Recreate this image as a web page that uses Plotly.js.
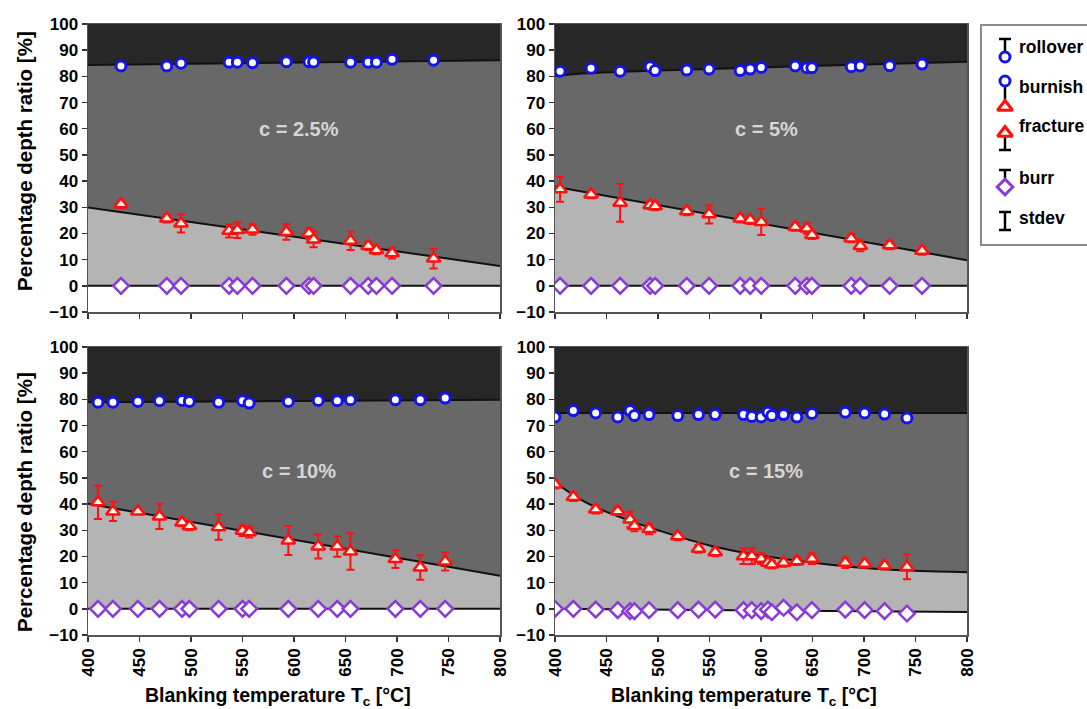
<!DOCTYPE html>
<html><head><meta charset="utf-8">
<script src="https://cdn.plot.ly/plotly-3.0.1.min.js"></script>
<style>html,body{margin:0;padding:0;background:#fff}#chart{width:1087px;height:709px}</style>
</head><body><div id="chart"></div>
<script>
// ---------- axis ranges ----------
const X_RANGE = [400, 800];
const Y_RANGE = [-10, 100];

// ---------- panel 1 : c = 2.5% ----------
const T1 = [432, 476.5, 490.3, 537, 545, 559.7, 592.6, 614.5, 619, 654.9, 672, 680, 695.2, 735.5];
const burnish1 = [84.0, 84.0, 85.0, 85.4, 85.4, 85.2, 85.6, 85.6, 85.5, 85.4, 85.4, 85.4, 86.5, 86.2];
const fracture1 = [31.2, 25.7, 23.8, 21.0, 21.3, 21.5, 20.6, 20.0, 17.7, 17.2, 15.2, 13.6, 12.4, 10.4];
const fractureErr1 = [1.5, 1.5, 3.4, 2.5, 3, 2, 3, 2, 3, 3.5, 1.5, 1.5, 2, 3.8];
const burr1 = [0, 0, 0, 0, 0, 0, 0, 0, 0, 0, 0, 0, 0, 0];
const topLineX1 = [400, 800], topLine1 = [84.3, 86.2];
const fracLineX1 = [400, 800], fracLine1 = [29.9, 7.6];
const burrLineX1 = [400, 800], burrLine1 = [0, 0];

// ---------- panel 2 : c = 5% ----------
const T2 = [404.9, 435, 463.2, 492.3, 497.2, 527.9, 549.6, 579.8, 589.5, 600.2, 633.2, 644.5, 649.4, 687.6, 696.4, 724.9, 756.3];
const burnish2 = [82.0, 83.1, 82.0, 83.7, 82.2, 82.4, 82.8, 82.2, 82.8, 83.4, 84.0, 83.3, 83.3, 83.7, 84.0, 84.1, 84.7];
const fracture2 = [36.9, 34.9, 31.7, 30.8, 30.4, 28.5, 27.3, 25.7, 25.1, 24.4, 22.5, 21.9, 19.4, 18.1, 15.2, 15.5, 13.4];
const fractureErr2 = [4.8, 1.5, 7.2, 1.5, 1.5, 1.5, 3.5, 1.5, 1.5, 5, 1.5, 2, 1.5, 1.5, 2, 1.5, 1.5];
const burr2 = [0, 0, 0, 0, 0, 0, 0, 0, 0, 0, 0, 0, 0, 0, 0, 0, 0];
const topLineX2 = [400, 423, 500, 600, 700, 800], topLine2 = [80.1, 81.0, 82.2, 83.4, 84.5, 85.6];
const fracLineX2 = [400, 800], fracLine2 = [37.8, 9.8];
const burrLineX2 = [400, 800], burrLine2 = [0, 0];

// ---------- panel 3 : c = 10% ----------
const T3 = [409.7, 424.2, 448.4, 469.4, 491.3, 498.4, 526.8, 550, 556.5, 594.5, 623.5, 642, 654.8, 698.4, 722.6, 746.8];
const burnish3 = [78.9, 78.9, 79.2, 79.5, 79.6, 79.2, 78.9, 79.5, 78.6, 79.2, 79.6, 79.5, 79.9, 79.9, 79.9, 80.5];
const fracture3 = [40.7, 37.2, 37.2, 35.3, 33.0, 31.5, 31.2, 29.8, 29.2, 26.1, 23.8, 23.8, 21.9, 19.0, 15.8, 18.1];
const fractureErr3 = [6.4, 3.7, 1, 4.8, 1.5, 1.5, 4.8, 2, 2, 5.5, 4.6, 3.9, 7, 3.4, 4.7, 3.5];
const burr3 = [0, 0, 0, 0, 0, 0, 0, 0, 0, 0, 0, 0, 0, 0, 0, 0];
const topLineX3 = [400, 800], topLine3 = [78.9, 79.9];
const fracLineX3 = [400, 800], fracLine3 = [40.1, 12.6];
const burrLineX3 = [400, 800], burrLine3 = [0, 0];

// ---------- panel 4 : c = 15% ----------
const T4 = [400, 417.8, 439.5, 460.9, 472.9, 477.1, 491.3, 519.2, 539.3, 555.5, 583, 591.1, 600.2, 606.7, 610.5, 621.9, 634.8, 649.4, 681.8, 700.6, 720, 741.7];
const burnish4 = [73.3, 75.7, 74.8, 73.3, 75.7, 73.8, 74.2, 73.8, 74.2, 74.2, 74.2, 73.5, 73.3, 75.1, 73.8, 74.2, 73.3, 74.6, 75.1, 74.8, 74.4, 72.9];
const fracture4 = [47.5, 42.7, 37.9, 37.3, 34.1, 31.6, 30.5, 27.7, 22.9, 21.6, 20.1, 20.1, 19.1, 17.6, 16.9, 17.6, 18.2, 19.1, 17.6, 17.2, 16.5, 16.0];
const fractureErr4 = [1.5, 1.5, 1.5, 1.5, 3, 2, 2, 1.5, 1.5, 1.5, 3, 3, 2, 1.5, 1.5, 1.5, 1.5, 2, 2, 1.5, 1.5, 4.7];
const burr4 = [0, 0, -0.3, -0.5, -0.9, -0.9, -0.5, -0.5, -0.3, -0.3, -0.5, -0.5, -0.9, -0.3, -1.3, 0.4, -1.3, -0.5, -0.3, -0.5, -0.9, -1.8];
const topLineX4 = [400, 800], topLine4 = [74.8, 74.8];
const fracLineX4 = [400, 425, 450, 475, 500, 550, 600, 650, 700, 750, 800];
const fracLine4 = [48.3, 41.7, 37.0, 33.3, 30.0, 24.2, 20.3, 17.6, 15.6, 14.5, 14.0];
const burrLineX4 = [400, 800], burrLine4 = [0, -1.2];

const panelLabels = ['c = 2.5%', 'c = 5%', 'c = 10%', 'c = 15%'];
const legendLabels = ['rollover', 'burnish', 'fracture', 'burr', 'stdev'];

// ---------- styles ----------
const DARK = '#272727', MID = '#686868', LIGHT = '#b4b4b4';
const BLUE = '#1414e6', RED = '#ff1010', PURPLE = '#8a3ad6';
const FONT = 'Liberation Sans, Arial, sans-serif';

const panels = [
  {T: T1, b: burnish1, f: fracture1, fe: fractureErr1, r: burr1, tx: topLineX1, ty: topLine1, fx: fracLineX1, fy: fracLine1, rx: burrLineX1, ry: burrLine1, spline: false, ly: 60},
  {T: T2, b: burnish2, f: fracture2, fe: fractureErr2, r: burr2, tx: topLineX2, ty: topLine2, fx: fracLineX2, fy: fracLine2, rx: burrLineX2, ry: burrLine2, spline: true, ly: 60},
  {T: T3, b: burnish3, f: fracture3, fe: fractureErr3, r: burr3, tx: topLineX3, ty: topLine3, fx: fracLineX3, fy: fracLine3, rx: burrLineX3, ry: burrLine3, spline: false, ly: 52.5},
  {T: T4, b: burnish4, f: fracture4, fe: fractureErr4, r: burr4, tx: topLineX4, ty: topLine4, fx: fracLineX4, fy: fracLine4, rx: burrLineX4, ry: burrLine4, spline: true, ly: 52.5}
];

const traces = [];
const annotations = [];
panels.forEach((p, i) => {
  const sfx = i === 0 ? '' : String(i + 1);
  const xa = 'x' + sfx, ya = 'y' + sfx;
  const base = {xaxis: xa, yaxis: ya, hoverinfo: 'skip', showlegend: false};
  const bl = {color: '#111', width: 2, shape: p.spline ? 'spline' : 'linear'};
  traces.push(Object.assign({}, base, {x: X_RANGE, y: [Y_RANGE[0], Y_RANGE[0]], mode: 'lines', line: {width: 0}}));
  traces.push(Object.assign({}, base, {x: p.rx, y: p.ry, mode: 'lines', fill: 'tonexty', fillcolor: '#ffffff', line: {color: '#111', width: 2}}));
  traces.push(Object.assign({}, base, {x: p.fx, y: p.fy, mode: 'lines', fill: 'tonexty', fillcolor: LIGHT, line: bl}));
  traces.push(Object.assign({}, base, {x: p.tx, y: p.ty, mode: 'lines', fill: 'tonexty', fillcolor: MID, line: bl}));
  traces.push(Object.assign({}, base, {x: X_RANGE, y: [Y_RANGE[1], Y_RANGE[1]], mode: 'lines', fill: 'tonexty', fillcolor: DARK, line: {width: 0}}));
  // burr
  traces.push(Object.assign({}, base, {x: p.T, y: p.r, mode: 'markers', name: 'burr',
    marker: {symbol: 'diamond', size: 12, color: '#ffffff', line: {color: PURPLE, width: 2.5}}}));
  // fracture
  traces.push(Object.assign({}, base, {x: p.T, y: p.f, mode: 'markers', name: 'fracture',
    error_y: {type: 'data', array: p.fe, visible: true, color: RED, thickness: 2, width: 4},
    marker: {symbol: 'triangle-up', size: 12, color: '#fff6e8', line: {color: RED, width: 2.5}}}));
  // burnish / rollover boundary
  traces.push(Object.assign({}, base, {x: p.T, y: p.b, mode: 'markers', name: 'burnish',
    marker: {symbol: 'circle', size: 10, color: '#ffffff', line: {color: BLUE, width: 3}}}));
  annotations.push({xref: xa, yref: ya, x: 605, y: p.ly, text: '<b>' + panelLabels[i] + '</b>', showarrow: false,
    xanchor: 'center', yanchor: 'middle', font: {family: FONT, size: 20, color: '#d6d6d6'}});
});

// ---------- custom legend (icons built from the same marker/error-bar glyphs) ----------
const LG = {xaxis: 'x5', yaxis: 'y5', hoverinfo: 'skip', showlegend: false, mode: 'markers'};
const ebBlack = (plus, minus) => ({type: 'data', symmetric: false, array: [plus], arrayminus: [minus], visible: true, color: '#000', thickness: 2.5, width: 6});
const legendIconX = 24, legendTextX = 36;
const legendTextY = [22, 62, 101, 153, 193];
traces.push(Object.assign({}, LG, {x: [legendIconX], y: [32], error_y: ebBlack(0, 18),
  marker: {symbol: 'circle', size: 10, color: '#fff', line: {color: BLUE, width: 3}}}));
traces.push(Object.assign({}, LG, {x: [legendIconX, legendIconX], y: [56, 81], mode: 'lines', line: {color: '#000', width: 2.5}}));
traces.push(Object.assign({}, LG, {x: [legendIconX], y: [56],
  marker: {symbol: 'circle', size: 10, color: '#fff', line: {color: BLUE, width: 3}}}));
traces.push(Object.assign({}, LG, {x: [legendIconX], y: [82],
  marker: {symbol: 'triangle-up', size: 13, color: '#fff6e8', line: {color: RED, width: 3}}}));
traces.push(Object.assign({}, LG, {x: [legendIconX], y: [108], error_y: ebBlack(17, 0),
  marker: {symbol: 'triangle-up', size: 13, color: '#fff6e8', line: {color: RED, width: 3}}}));
traces.push(Object.assign({}, LG, {x: [legendIconX], y: [162], error_y: ebBlack(0, 17),
  marker: {symbol: 'diamond', size: 12, color: '#fff', line: {color: PURPLE, width: 3}}}));
traces.push(Object.assign({}, LG, {x: [legendIconX], y: [196], error_y: {type: 'data', array: [9], visible: true, color: '#000', thickness: 2.5, width: 6},
  marker: {size: 2, color: 'rgba(0,0,0,0)'}}));
legendLabels.forEach((t, i) => {
  annotations.push({xref: 'x5', yref: 'y5', x: legendTextX, y: legendTextY[i], text: t, showarrow: false,
    xanchor: 'left', yanchor: 'middle', font: {family: FONT, size: 17.5, color: '#000', weight: 'bold'}});
});

// ---------- axis titles ----------
const yTitle = 'Percentage depth ratio [%]';
const xTitle = 'Blanking temperature T<sub>c</sub> [°C]';
[1 - 161 / 709, 1 - 502 / 709].forEach(yp => annotations.push({xref: 'paper', yref: 'paper', x: 24 / 1087, y: yp, text: yTitle,
  textangle: -90, showarrow: false, xanchor: 'center', yanchor: 'middle', font: {family: FONT, size: 20.5, color: '#000', weight: 'bold'}}));
[278 / 1087, 744 / 1087].forEach(xp => annotations.push({xref: 'paper', yref: 'paper', x: xp, y: 1 - 696 / 709, text: xTitle,
  showarrow: false, xanchor: 'center', yanchor: 'middle', font: {family: FONT, size: 19.5, color: '#000', weight: 'bold'}}));

const xBase = {range: X_RANGE, dtick: 50, tick0: 400, ticks: 'outside', ticklen: 5, tickwidth: 1.5, tickcolor: '#333',
  showline: true, linecolor: '#555', linewidth: 1.5, mirror: true, showgrid: false, zeroline: false, fixedrange: true,
  tickangle: -90, tickfont: {family: FONT, size: 17, color: '#000', weight: 'bold'}};
const yBase = {range: Y_RANGE, dtick: 10, tick0: 0, ticks: 'outside', ticklen: 5, tickwidth: 1.5, tickcolor: '#333',
  showline: true, linecolor: '#555', linewidth: 1.5, mirror: true, showgrid: false, zeroline: false, fixedrange: true,
  tickfont: {family: FONT, size: 17, color: '#000', weight: 'bold'}};
const dTop = [1 - 312 / 709, 1 - 24 / 709], dBot = [1 - 635 / 709, 1 - 347 / 709];
const dLeft = [88 / 1087, 500 / 1087], dRight = [555 / 1087, 967 / 1087];

const layout = {
  width: 1087, height: 709, margin: {l: 0, r: 0, t: 0, b: 0},
  paper_bgcolor: '#ffffff', plot_bgcolor: '#ffffff', showlegend: false,
  font: {family: FONT, color: '#000'},
  xaxis: Object.assign({}, xBase, {domain: dLeft, anchor: 'y', showticklabels: false}),
  yaxis: Object.assign({}, yBase, {domain: dTop, anchor: 'x'}),
  xaxis2: Object.assign({}, xBase, {domain: dRight, anchor: 'y2', showticklabels: false}),
  yaxis2: Object.assign({}, yBase, {domain: dTop, anchor: 'x2'}),
  xaxis3: Object.assign({}, xBase, {domain: dLeft, anchor: 'y3'}),
  yaxis3: Object.assign({}, yBase, {domain: dBot, anchor: 'x3'}),
  xaxis4: Object.assign({}, xBase, {domain: dRight, anchor: 'y4'}),
  yaxis4: Object.assign({}, yBase, {domain: dBot, anchor: 'x4'}),
  xaxis5: {domain: [981 / 1087, 1], range: [0, 106], visible: false, fixedrange: true, anchor: 'y5'},
  yaxis5: {domain: [1 - 245 / 709, 1 - 25 / 709], range: [220, 0], visible: false, fixedrange: true, anchor: 'x5'},
  shapes: [{type: 'rect', xref: 'paper', yref: 'paper', x0: 981 / 1087, x1: 1.01, y0: 1 - 245 / 709, y1: 1 - 25 / 709,
    line: {color: '#8c8c8c', width: 2}, fillcolor: 'rgba(0,0,0,0)', layer: 'above'}],
  annotations: annotations
};

Plotly.newPlot('chart', traces, layout, {displayModeBar: false, staticPlot: true});
</script>
</body></html>
